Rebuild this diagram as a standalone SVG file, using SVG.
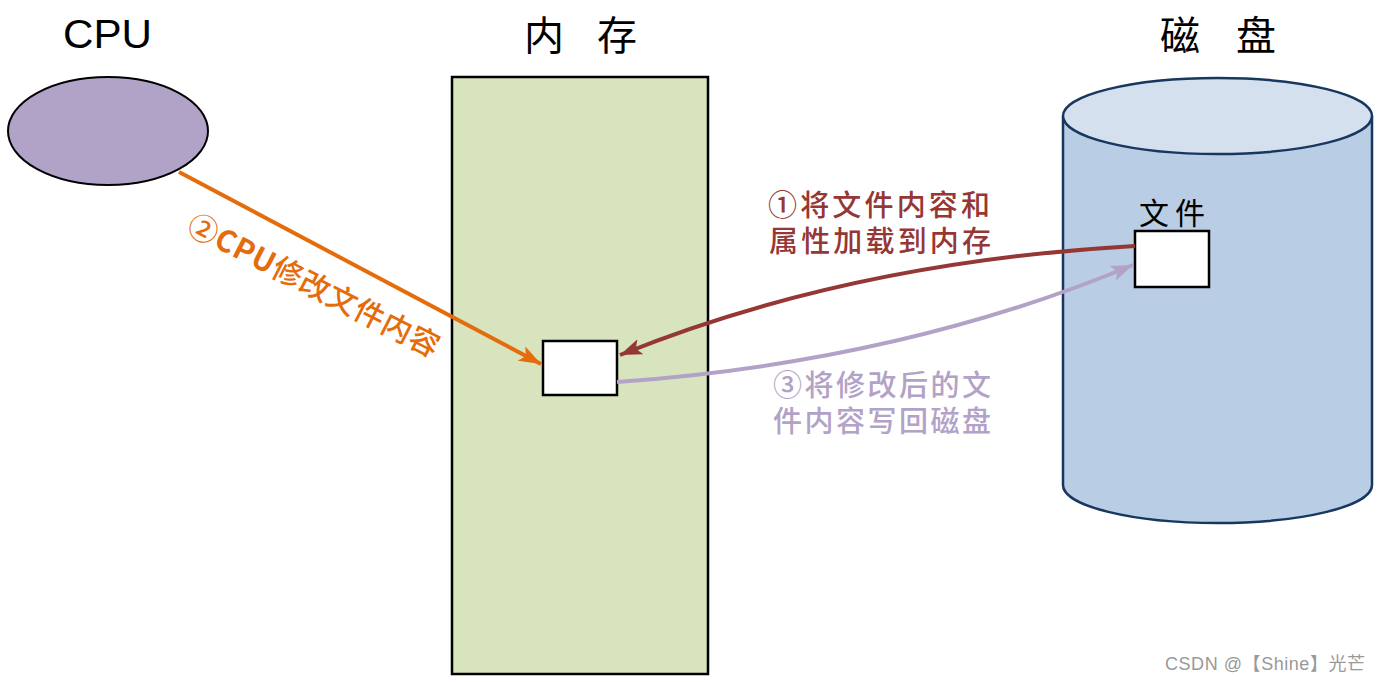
<svg xmlns="http://www.w3.org/2000/svg" width="1381" height="682" viewBox="0 0 1381 682">
<style>
.title{font-family:"Liberation Sans","Noto Sans CJK SC",sans-serif;font-size:40px;fill:#000}
.cjk{font-family:"Noto Sans CJK SC",sans-serif}
.box{fill:#fff;stroke:#000;stroke-width:2.5}
.lbl{font-family:"Noto Sans CJK SC",sans-serif;font-size:29px;font-weight:500}
</style>
<defs>
<marker id="ao" markerUnits="userSpaceOnUse" markerWidth="24" markerHeight="18" refX="22" refY="9" orient="auto"><path d="M0,1 L22,9 L0,17 L5,9 Z" fill="#e46c0a"/></marker>
<marker id="ar" markerUnits="userSpaceOnUse" markerWidth="24" markerHeight="18" refX="22" refY="9" orient="auto"><path d="M0,1 L22,9 L0,17 L5,9 Z" fill="#953735"/></marker>
<marker id="ap" markerUnits="userSpaceOnUse" markerWidth="24" markerHeight="18" refX="22" refY="9" orient="auto"><path d="M0,1 L22,9 L0,17 L5,9 Z" fill="#b3a2c7"/></marker>
</defs>
<rect width="1381" height="682" fill="#fff"/>
<g id="cpu">
<ellipse cx="108" cy="131" rx="100" ry="54" fill="#b1a2c7" stroke="#000" stroke-width="2"/>
<text class="title" x="63" y="48" textLength="89" lengthAdjust="spacingAndGlyphs">CPU</text>
</g>
<g id="memory">
<rect x="452" y="77" width="256" height="597" fill="#d7e4bd" stroke="#000" stroke-width="2.5"/>
<text class="title cjk" x="524" y="50" textLength="113">内 存</text>
<rect id="mem-file" class="box" x="543" y="341" width="74" height="54"/>
</g>
<g id="disk">
<path d="M1063,116 L1063,485 A154.5,38 0 0 0 1372,485 L1372,116" fill="#b9cde5" stroke="#17375e" stroke-width="2.5"/>
<ellipse cx="1217.5" cy="116" rx="154.5" ry="38" fill="#d5e0ee" stroke="#17375e" stroke-width="2.5"/>
<text class="title cjk" x="1160" y="50" textLength="116">磁 盘</text>
<text x="1139" y="224" font-family="Noto Sans CJK SC,sans-serif" font-size="30" fill="#000" textLength="66">文件</text>
<rect id="disk-file" class="box" x="1135" y="231" width="74" height="56"/>
</g>
<g id="connectors" fill="none" stroke-width="4">
<path d="M179,172 L541,364" stroke="#e46c0a" marker-end="url(#ao)"/>
<path d="M1135,246 Q850,262 620,355" stroke="#953735" marker-end="url(#ar)"/>
<path d="M617,382 Q900,362 1133,265" stroke="#b3a2c7" marker-end="url(#ap)"/>
</g>
<g id="labels">
<text transform="translate(185,232) rotate(27)" font-family="Noto Sans CJK SC,sans-serif" font-size="30" font-weight="500" fill="#e46c0a" textLength="278">②<tspan font-weight="bold">CPU</tspan>修改文件内容</text>
<text class="lbl" fill="#953735" x="768" y="216" textLength="222">①将文件内容和</text>
<text class="lbl" fill="#953735" x="769" y="252" textLength="222">属性加载到内存</text>
<text class="lbl" fill="#b3a2c7" x="773" y="396" textLength="218">③将修改后的文</text>
<text class="lbl" fill="#b3a2c7" x="773" y="432" textLength="218">件内容写回磁盘</text>
</g>
<text x="1165" y="670" font-family="Liberation Sans,Noto Sans CJK SC,sans-serif" font-size="18" fill="#999" textLength="200">CSDN @【Shine】光芒</text>
</svg>
